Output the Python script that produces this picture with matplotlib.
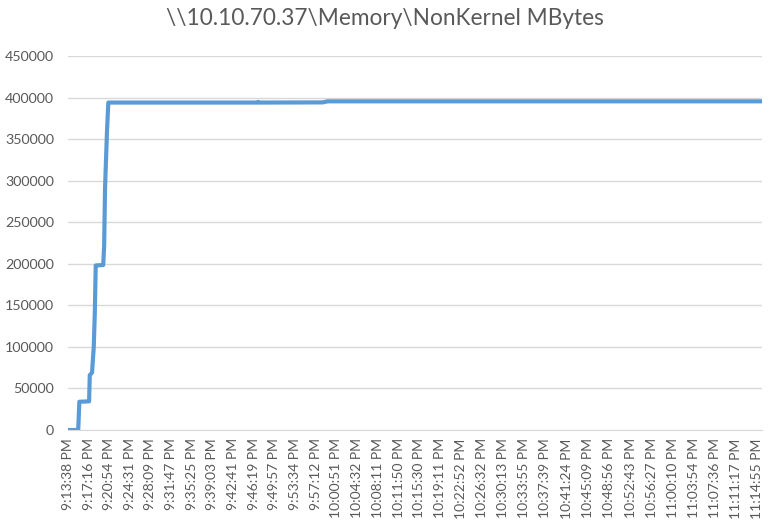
import matplotlib
matplotlib.use("Agg")
import matplotlib.pyplot as plt

title = r"\\10.10.70.37\Memory\NonKernel MBytes"

tick_labels = [
    "9:13:38 PM", "9:17:16 PM", "9:20:54 PM", "9:24:31 PM", "9:28:09 PM",
    "9:31:47 PM", "9:35:25 PM", "9:39:03 PM", "9:42:41 PM", "9:46:19 PM",
    "9:49:57 PM", "9:53:34 PM", "9:57:12 PM", "10:00:51 PM", "10:04:32 PM",
    "10:08:11 PM", "10:11:50 PM", "10:15:30 PM", "10:19:11 PM", "10:22:52 PM",
    "10:26:32 PM", "10:30:13 PM", "10:33:55 PM", "10:37:39 PM", "10:41:24 PM",
    "10:45:09 PM", "10:48:56 PM", "10:52:43 PM", "10:56:27 PM", "11:00:10 PM",
    "11:03:54 PM", "11:07:36 PM", "11:11:17 PM", "11:14:55 PM",
]

sample_times = [
    "9:13:38 PM", "9:15:26 PM", "9:15:38 PM", "9:17:21 PM", "9:17:28 PM",
    "9:17:52 PM", "9:18:10 PM", "9:18:21 PM", "9:18:31 PM", "9:19:50 PM",
    "9:20:00 PM", "9:20:09 PM", "9:20:30 PM", "9:20:44 PM", "9:46:58 PM",
    "9:47:08 PM", "9:47:18 PM", "9:58:26 PM", "9:59:19 PM", "11:15:47 PM",
]
nonkernel_mbytes = [
    0, 0, 34000, 34500, 66000,
    69000, 100000, 140000, 198000, 198500,
    222000, 290000, 360000, 394000, 394000,
    394800, 394000, 394200, 395500, 395500,
]

y_ticks = list(range(0, 450001, 50000))


def to_sec(s):
    t, ampm = s.split()
    h, m, sec = (int(v) for v in t.split(":"))
    if ampm == "PM" and h != 12:
        h += 12
    return h * 3600 + m * 60 + sec


t0 = to_sec(tick_labels[0])
xs = [to_sec(s) - t0 for s in sample_times]
tick_x = [to_sec(s) - t0 for s in tick_labels]

plt.rcParams["font.family"] = ["Lato", "DejaVu Sans"]

fig = plt.figure(figsize=(7.7, 5.31), dpi=100)
ax = fig.add_axes([0.0883, 0.1902, 0.9013, 0.7043])

ax.plot(xs, nonkernel_mbytes, color="#5B9BD5", lw=3.0, solid_joinstyle="round")

ax.set_ylim(0, 450000)
ax.set_xlim(0, xs[-1])
ax.set_yticks(y_ticks)
ax.set_yticklabels([str(v) for v in y_ticks], fontsize=10.3, color="#595959")
ax.set_xticks(tick_x)
ax.set_xticklabels(tick_labels, rotation=90, fontsize=10, color="#595959")
ax.tick_params(axis="x", length=0, pad=6)
ax.tick_params(axis="y", length=0, pad=10)

ax.grid(axis="y", color="#D9D9D9", lw=1)
ax.set_axisbelow(True)
for side in ["top", "right", "left"]:
    ax.spines[side].set_visible(False)
ax.spines["bottom"].set_color("#D9D9D9")

fig.text(0.5, 0.965, title, ha="center", va="center", fontsize=16.3, color="#595959")

fig.savefig("out.png", dpi=100)
